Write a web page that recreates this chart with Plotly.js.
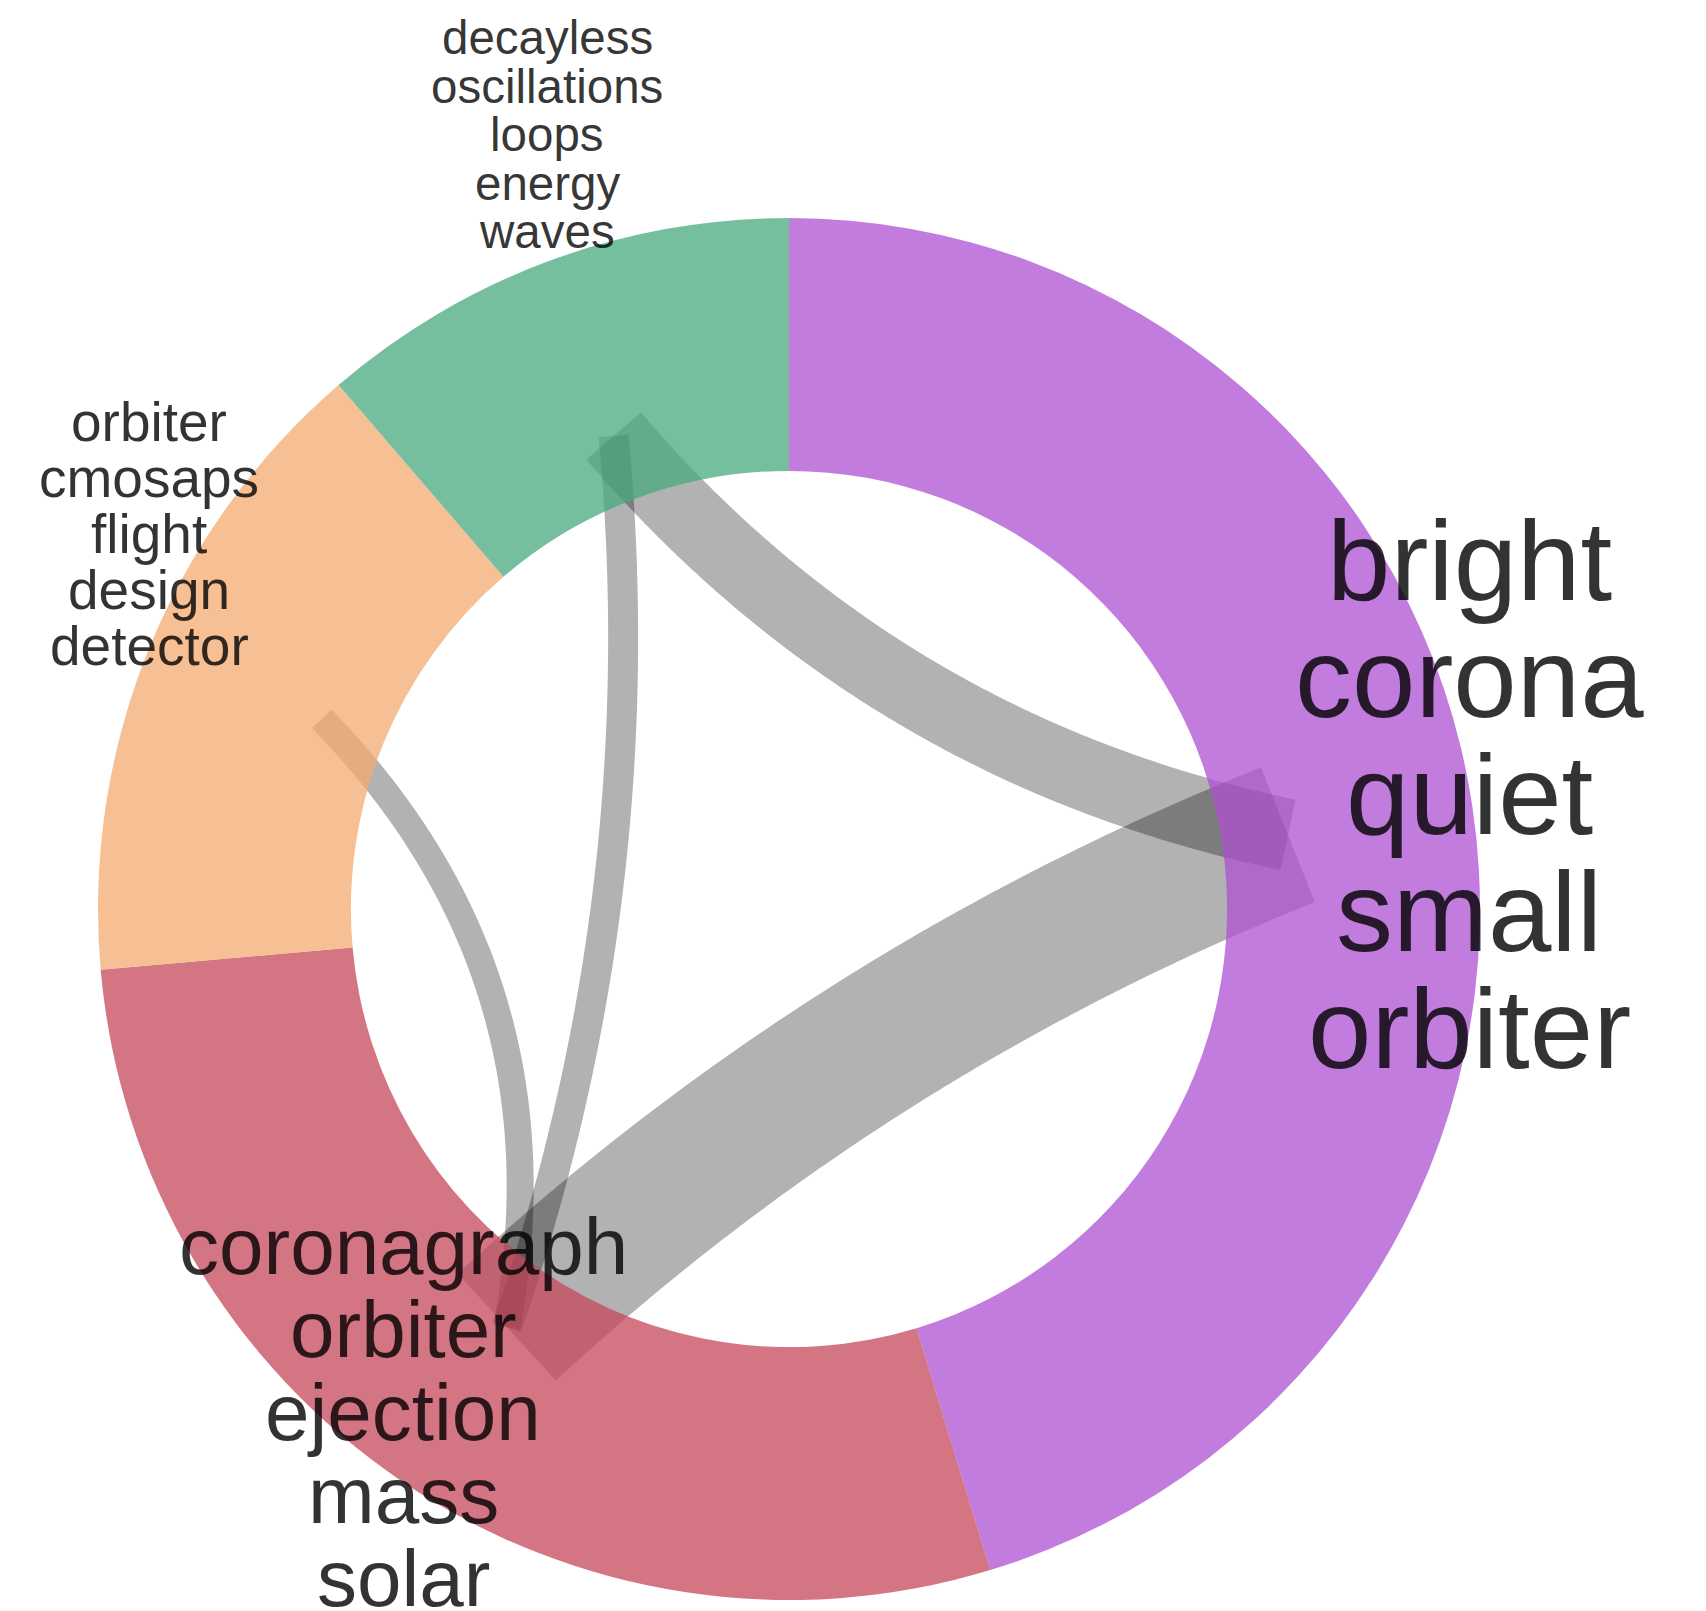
<!DOCTYPE html>
<html>
<head>
<meta charset="utf-8">
<script src="https://cdn.plot.ly/plotly-3.0.1.min.js"></script>
<style>html,body{margin:0;padding:0;background:#fff;}#chart{width:1706px;height:1611px;}</style>
</head>
<body>
<div id="chart"></div>
<script>
// ---------------- data ----------------
const topicNames = ["Topic 1", "Topic 2", "Topic 3", "Topic 4"];
const topicShare = [45.3, 28.3, 15.1, 11.3];
const topicWords = [
  ["bright", "corona", "quiet", "small", "orbiter"],
  ["coronagraph", "orbiter", "ejection", "mass", "solar"],
  ["orbiter", "cmosaps", "flight", "design", "detector"],
  ["decayless", "oscillations", "loops", "energy", "waves"]
];
const linkSource = [0, 3, 3, 2];
const linkTarget = [1, 0, 1, 1];
const linkWeight = [14.5, 7.2, 3.0, 2.7];

// ---------------- style / layout ----------------
const W = 1706, H = 1611;
const CX = 789, CY = 909, R = 691, HOLE = 0.634;
const topicColors = ["rgba(172,80,210,0.75)", "rgba(198,71,91,0.75)", "rgba(244,171,112,0.75)", "rgba(71,170,126,0.75)"];
const labelStyle = [
  {x: 1469, y0: 560, dy: 117, size: 114},
  {x: 403,  y0: 1246, dy: 83, size: 80},
  {x: 149,  y0: 422, dy: 56, size: 55},
  {x: 547,  y0: 38,  dy: 48.5, size: 47.5}
];
const END_R = 0.73;       // chord end radius (fraction of outer radius)
const PULL = 0.42;        // pull of the control point toward centre
const PX_PER_WEIGHT = 10; // chord stroke width per unit weight

// angles (clockwise from 12 o'clock) of each slice's middle
const total = topicShare.reduce((a, b) => a + b, 0);
const midAngle = [];
let acc = 0;
topicShare.forEach(v => { midAngle.push((acc + v / 2) / total * 2 * Math.PI); acc += v; });

function endPoint(i) {
  return [END_R * Math.sin(midAngle[i]), END_R * Math.cos(midAngle[i])];
}

const traces = [];
linkSource.forEach((s, k) => {
  const p0 = endPoint(s), p2 = endPoint(linkTarget[k]);
  const mid = [(p0[0] + p2[0]) / 2, (p0[1] + p2[1]) / 2];
  const c = [mid[0] * (1 - PULL), mid[1] * (1 - PULL)];
  const xs = [], ys = [];
  const N = 120;
  for (let j = 0; j <= N; j++) {
    const t = j / N, a = (1 - t) * (1 - t), b = 2 * t * (1 - t), d = t * t;
    xs.push(a * p0[0] + b * c[0] + d * p2[0]);
    ys.push(a * p0[1] + b * c[1] + d * p2[1]);
  }
  traces.push({
    type: "scatter", mode: "lines", x: xs, y: ys,
    line: {color: "rgba(0,0,0,0.3)", width: linkWeight[k] * PX_PER_WEIGHT, shape: "spline", smoothing: 1, simplify: false},
    hoverinfo: "skip", showlegend: false
  });
});

traces.push({
  type: "pie",
  labels: topicNames,
  values: topicShare,
  hole: HOLE,
  sort: false,
  direction: "clockwise",
  rotation: 0,
  textinfo: "none",
  hoverinfo: "label+percent",
  marker: {colors: topicColors, line: {width: 0}},
  domain: {x: [(CX - R) / W, (CX + R) / W], y: [(H - CY - R) / H, (H - CY + R) / H]},
  showlegend: false
});

const annotations = [];
topicWords.forEach((words, i) => {
  const st = labelStyle[i];
  words.forEach((w, j) => {
    annotations.push({
      xref: "paper", yref: "paper",
      x: st.x / W, y: 1 - (st.y0 + j * st.dy) / H,
      xanchor: "center", yanchor: "middle",
      text: w, showarrow: false,
      font: {family: "Liberation Sans, Arial, sans-serif", size: st.size, color: "rgba(0,0,0,0.8)"}
    });
  });
});

const layout = {
  width: W, height: H,
  margin: {l: 0, r: 0, t: 0, b: 0, pad: 0},
  paper_bgcolor: "#ffffff", plot_bgcolor: "rgba(0,0,0,0)",
  showlegend: false,
  xaxis: {range: [-CX / R, (W - CX) / R], visible: false, fixedrange: true},
  yaxis: {range: [-(H - CY) / R, CY / R], visible: false, fixedrange: true},
  annotations: annotations
};

Plotly.newPlot("chart", traces, layout, {displayModeBar: false, staticPlot: true});
</script>
</body>
</html>
